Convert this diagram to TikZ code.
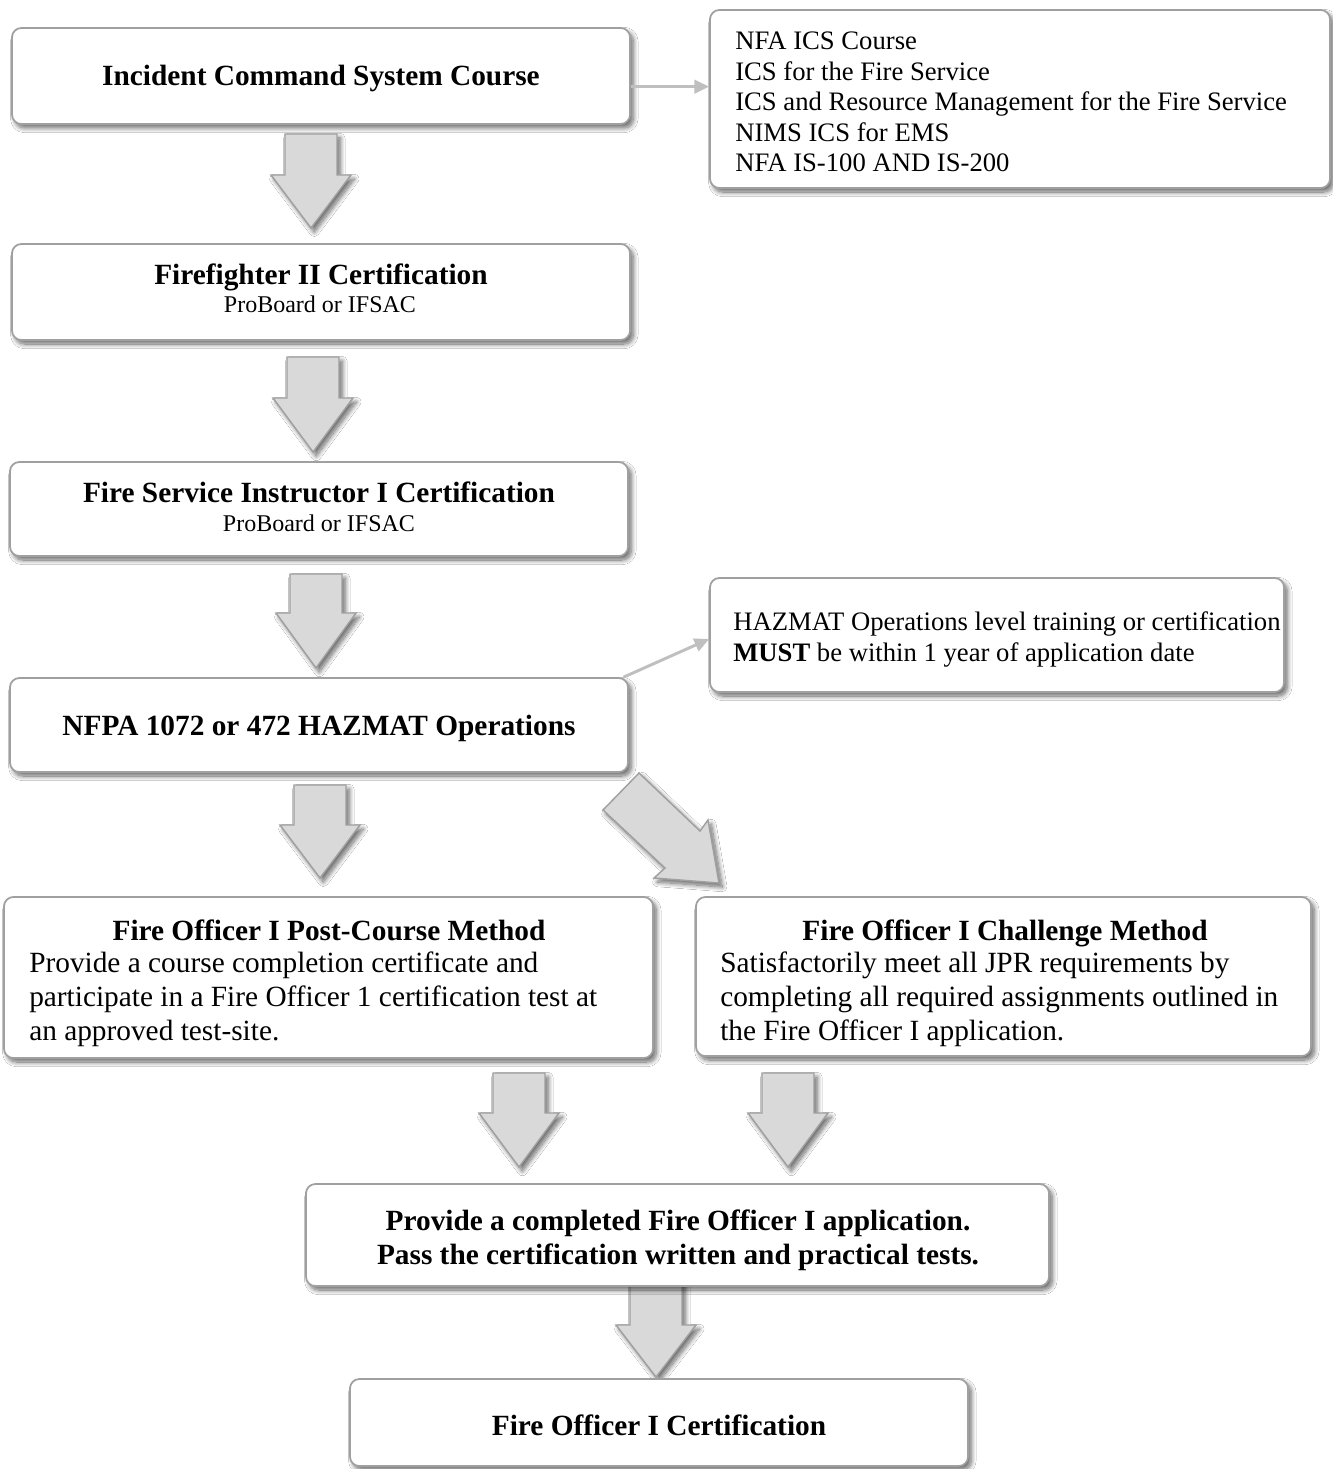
\documentclass[tikz,border=0pt]{standalone}
\usepackage{fontspec}
\setmainfont{Liberation Serif}
\usetikzlibrary{fit,arrows.meta,shadows.blur}
\definecolor{boxline}{RGB}{160,160,160}
\definecolor{arrowfill}{RGB}{217,217,217}
\definecolor{arrowline}{RGB}{160,160,160}
\definecolor{connline}{RGB}{191,191,191}
\newcommand{\blockdown}[4]{%
  \draw[blockarrow] ({#1-26},#2) -- ({#1+26},#2) -- ({#1+26},#3) -- ({#1+40},#3) -- (#1,#4) -- ({#1-40},#3) -- ({#1-26},#3) -- cycle;}
\tikzset{
  softshadow/.style={blur shadow={shadow xshift=2.5pt,shadow yshift=-3pt,shadow blur radius=3.5pt,shadow opacity=60,shadow blur steps=12}},
  box/.style={draw=boxline,line width=1.3pt,fill=white,rounded corners=7pt,inner sep=0pt,softshadow},
  blockarrow/.style={draw=arrowline,fill=arrowfill,line width=1.1pt,line join=miter,softshadow},
  conn/.style={draw=connline,line width=2.2pt,-{Triangle[length=11pt,width=10pt]}},
  ttl/.style={font=\fontsize{22}{25}\selectfont\bfseries,inner sep=0pt,anchor=base},
  sub/.style={font=\fontsize{18}{21}\selectfont,inner sep=0pt,anchor=base},
  body/.style={font=\fontsize{20}{23}\selectfont,inner sep=0pt,anchor=base west},
  bigbody/.style={font=\fontsize{22}{25}\selectfont,inner sep=0pt,anchor=base west},
}
\begin{document}
\begin{tikzpicture}[x=0.75pt,y=-0.75pt]
\useasboundingbox[fill=white] (0,0) rectangle (1332,1469);
% block arrows
\blockdown{311}{134}{175}{228}
\blockdown{313}{357}{398}{452}
\blockdown{316}{574}{613}{668}
\blockdown{320}{785}{825}{878}
\blockdown{519}{1073}{1113}{1167}
\blockdown{788}{1073}{1113}{1167}
\blockdown{656}{1268}{1325}{1377}
\draw[blockarrow] (639,773) -- (700,831) -- (708,820) -- (719,883) -- (654,878) -- (665,868) -- (603,810) -- cycle;
% boxes
\node[box,fit={(12,28) (630,124)}] (ics) {};
\node[box,fit={(710,10) (1330,188)}] (nfa) {};
\node[box,fit={(12,244) (630,340)}] (ff) {};
\node[box,fit={(10,462) (628,556)}] (fsi) {};
\node[box,fit={(710,578) (1284,692)}] (haz) {};
\node[box,fit={(10,678) (628,772)}] (nfpa) {};
\node[box,fit={(4,897) (653,1058)}] (post) {};
\node[box,fit={(696,897) (1311,1056)}] (chal) {};
\node[box,fit={(306,1184) (1049,1286)}] (prov) {};
\node[box,fit={(350,1379) (968,1466)}] (cert) {};
% texts
\node[ttl] (icst) at (321,86) {Incident Command System Course};
\node[body] (nfa1) at (735,50) {NFA ICS Course};
\node[body] (nfa2) at (735,81) {ICS for the Fire Service};
\node[body] (nfa3) at (735,111) {ICS and Resource Management for the Fire Service};
\node[body] (nfa4) at (735,142) {NIMS ICS for EMS};
\node[body] (nfa5) at (735,172) {NFA IS-100 AND IS-200};
\node[ttl] (fft) at (321,285) {Firefighter II Certification};
\node[sub] (ffs) at (320,313) {ProBoard or IFSAC};
\node[ttl] (fsit) at (319,502) {Fire Service Instructor I Certification};
\node[sub] (fsis) at (319,531) {ProBoard or IFSAC};
\node[body] (haz1) at (733,630) {HAZMAT Operations level training or certification};
\node[body] (haz2) at (733,661) {\textbf{MUST} be within 1 year of application date};
\node[ttl] (nfpat) at (319,735) {NFPA 1072 or 472 HAZMAT Operations};
\node[ttl] (postt) at (329,940) {Fire Officer I Post-Course Method};
\node[bigbody] (post1) at (29,972) {Provide a course completion certificate and};
\node[bigbody] (post2) at (29,1006) {participate in a Fire Officer 1 certification test at};
\node[bigbody] (post3) at (29,1040) {an approved test-site.};
\node[ttl] (chalt) at (1005,940) {Fire Officer I Challenge Method};
\node[bigbody] (chal1) at (720,972) {Satisfactorily meet all JPR requirements by};
\node[bigbody] (chal2) at (720,1006) {completing all required assignments outlined in};
\node[bigbody] (chal3) at (720,1040) {the Fire Officer I application.};
\node[ttl] (prov1) at (678,1230) {Provide a completed Fire Officer I application.};
\node[ttl] (prov2) at (678,1264) {Pass the certification written and practical tests.};
\node[ttl] (certt) at (659,1435) {Fire Officer I Certification};
% thin connectors
\draw[conn] ([yshift=-8pt]ics.east) -- ([yshift=-8pt]ics.east -| nfa.west);
\draw[conn] ([xshift=-4pt]nfpa.north east) -- ([yshift=-3pt]haz.west);
\end{tikzpicture}
\end{document}
